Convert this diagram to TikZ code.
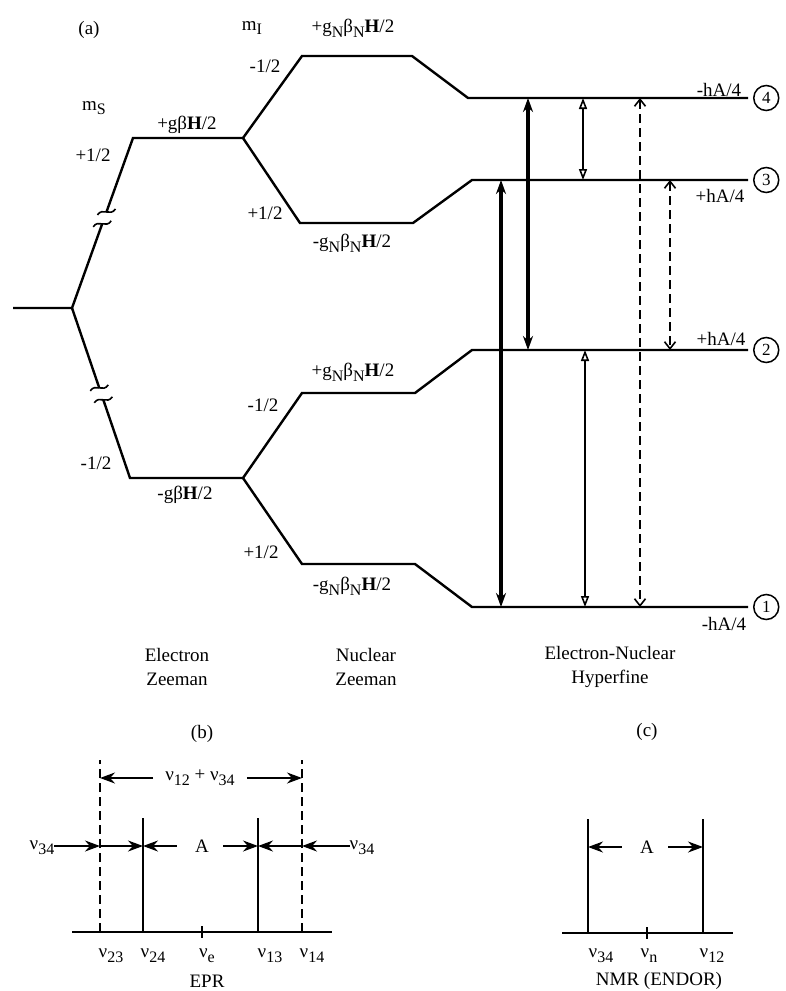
\documentclass[tikz,border=0pt]{standalone}
\usepackage{fontspec}
\setmainfont{Liberation Serif}
\usetikzlibrary{arrows.meta, positioning, calc}

\newcommand\dn[1]{\raisebox{-0.55ex}{\fontsize{16}{18}\selectfont #1}}

\tikzset{
    tilde/.pic={\draw[line width=1.6pt] (-9,3) .. controls (-4,-5) and (4,5) .. (9,-3);}
}

\begin{document}
\begin{tikzpicture}[x=1pt, y=-1pt,
    font=\fontsize{19}{24}\selectfont,
    level/.style={line width=2.4pt, line join=miter},
    lbl/.style={inner sep=0pt},
    circ/.style={draw, circle, line width=1.5pt, minimum size=25pt, inner sep=0pt,
                 font=\fontsize{17}{19}\selectfont},
    thk/.style={line width=3.2pt, {Stealth[length=14pt,width=10pt]}-{Stealth[length=14pt,width=10pt]}},
    thn/.style={line width=1.6pt, {Triangle[open,length=11pt,width=8pt,line width=1.6pt]}-{Triangle[open,length=11pt,width=8pt,line width=1.6pt]}},
    dsh/.style={line width=1.6pt, dash pattern=on 9pt off 5pt, {Straight Barb[length=7pt,width=11pt]}-{Straight Barb[length=7pt,width=11pt]}},
    axis/.style={line width=2pt},
    peak/.style={line width=2pt},
    dim/.style={line width=1.6pt, -{Stealth[length=15pt,width=11pt]}}
]
\useasboundingbox (0,0) rectangle (786,991);

% electron Zeeman
\coordinate (E0) at (13,308);
\coordinate (Eb) at (72,308);
\coordinate (Eu) at (133,138);
\coordinate (Eur) at (243,138);
\coordinate (Ed) at (130,478);
\coordinate (Edr) at (243,478);

\draw[level] (E0) -- (Eb) -- ($(Eb)!0.495!(Eu)$);
\draw[level] ($(Eb)!0.565!(Eu)$) -- (Eu) -- (Eur);
\pic at ($(Eb)!0.495!(Eu)$) {tilde};
\pic at ($(Eb)!0.565!(Eu)$) {tilde};
\draw[level] (Eb) -- ($(Eb)!0.47!(Ed)$);
\draw[level] ($(Eb)!0.54!(Ed)$) -- (Ed) -- (Edr);
\pic at ($(Eb)!0.47!(Ed)$) {tilde};
\pic at ($(Eb)!0.54!(Ed)$) {tilde};

% nuclear Zeeman and hyperfine levels
\coordinate (L4) at (468,98);   \coordinate (L4e) at (748,98);
\coordinate (L3) at (472,180);  \coordinate (L3e) at (748,180);
\coordinate (L2) at (472,350);  \coordinate (L2e) at (748,350);
\coordinate (L1) at (472,607);  \coordinate (L1e) at (748,607);

\draw[level] (Eur) -- (302,56) -- (412,56) -- (L4) -- (L4e);
\draw[level] (Eur) -- (300,223) -- (413,223) -- (L3) -- (L3e);
\draw[level] (Edr) -- (302,393) -- (415,393) -- (L2) -- (L2e);
\draw[level] (Edr) -- (302,564) -- (415,564) -- (L1) -- (L1e);

\node[circ, right=5pt of L4e] (n4) {4};
\node[circ, right=5pt of L3e] (n3) {3};
\node[circ, right=5pt of L2e] (n2) {2};
\node[circ, right=5pt of L1e] (n1) {1};

% labels
\node[lbl] (pa) at (89,30) {(a)};
\node[lbl] (ms) at (94,108) {m\dn{S}};
\node[lbl] (msu) at (93,155) {+1/2};
\node[lbl] (msd) at (96,463) {-1/2};
\node[lbl] (ezu) at (187,125) {+gβ\textbf{H}/2};
\node[lbl] (ezd) at (185,495) {-gβ\textbf{H}/2};
\node[lbl] (mi) at (252,28) {m\dn{I}};
\node[lbl] (mi1) at (265,66) {-1/2};
\node[lbl] (mi2) at (265,213) {+1/2};
\node[lbl] (mi3) at (263,405) {-1/2};
\node[lbl] (mi4) at (261,552) {+1/2};
\node[lbl] (nz1) at (353,28) {+g\dn{N}β\dn{N}\textbf{H}/2};
\node[lbl] (nz2) at (352,243) {-g\dn{N}β\dn{N}\textbf{H}/2};
\node[lbl] (nz3) at (353,372) {+g\dn{N}β\dn{N}\textbf{H}/2};
\node[lbl] (nz4) at (352,586) {-g\dn{N}β\dn{N}\textbf{H}/2};
\node[lbl] (hf4) at (719,90) {-hA/4};
\node[lbl] (hf3) at (720,196) {+hA/4};
\node[lbl] (hf2) at (721,339) {+hA/4};
\node[lbl] (hf1) at (724,624) {-hA/4};

% transitions
\coordinate (t1a) at (528,98);  \coordinate (t1b) at (528,350);
\coordinate (t2a) at (501,180); \coordinate (t2b) at (501,607);
\coordinate (t3a) at (583,98);  \coordinate (t3b) at (583,180);
\coordinate (t4a) at (585,350); \coordinate (t4b) at (585,607);
\coordinate (t5a) at (640,98);  \coordinate (t5b) at (640,607);
\coordinate (t6a) at (670,180); \coordinate (t6b) at (670,350);
\draw[thk] (t1a) -- (t1b);
\draw[thk] (t2a) -- (t2b);
\draw[thn] (t3a) -- (t3b);
\draw[thn] (t4a) -- (t4b);
\draw[dsh] (t5a) -- (t5b);
\draw[dsh] (t6a) -- (t6b);

\node[lbl, align=center] (cez) at (177,667) {Electron\\Zeeman};
\node[lbl, align=center] (cnz) at (366,667) {Nuclear\\Zeeman};
\node[lbl, align=center] (chf) at (610,667) {Electron-Nuclear\\Hyperfine};

% (b) EPR spectrum
\node[lbl] (pb) at (202,734) {(b)};
\coordinate (bax1) at (72,932);  \coordinate (bax2) at (332,932);
\coordinate (p23) at (100,932);  \coordinate (p23t) at (100,760);
\coordinate (p24) at (143,932);  \coordinate (p24t) at (143,818);
\coordinate (p13) at (258,932);  \coordinate (p13t) at (258,818);
\coordinate (p14) at (302,932);  \coordinate (p14t) at (302,760);
\draw[axis] (bax1) -- (bax2);
\draw[peak, dash pattern=on 9pt off 5pt] (p23) -- (p23t);
\draw[peak, dash pattern=on 9pt off 5pt] (p14) -- (p14t);
\draw[peak] (p24) -- (p24t);
\draw[peak] (p13) -- (p13t);
\draw[peak] (202,926) -- (202,938);

\node[lbl] (sum) at (200,778) {ν\dn{12} + ν\dn{34}};
\draw[dim] ([xshift=-12pt]sum.west) -- (sum.west -| p23t);
\draw[dim] ([xshift=12pt]sum.east) -- (sum.east -| p14t);

\node[lbl] (bA) at (202,846) {A};
\node[lbl] (b34l) at (42,848) {ν\dn{34}};
\node[lbl] (b34r) at (362,848) {ν\dn{34}};
\draw[dim] (b34l.east |- bA) -- (p23 |- bA);
\draw[dim] (p23 |- bA) -- (p24 |- bA);
\draw[dim] ([xshift=-18pt]bA.west) -- (p24 |- bA);
\draw[dim] ([xshift=14pt]bA.east) -- (p13 |- bA);
\draw[dim] (p14 |- bA) -- (p13 |- bA);
\draw[dim] (b34r.west |- bA) -- (p14 |- bA);

\node[lbl] (n23) at (111,956) {ν\dn{23}};
\node[lbl] (n24) at (153,956) {ν\dn{24}};
\node[lbl] (ne) at (207,956) {ν\dn{e}};
\node[lbl] (n13) at (270,956) {ν\dn{13}};
\node[lbl] (n14) at (312,956) {ν\dn{14}};
\node[lbl] (epr) at (207,981) {EPR};

% (c) ENDOR spectrum
\node[lbl] (pc) at (647,732) {(c)};
\coordinate (cax1) at (562,933); \coordinate (cax2) at (733,933);
\coordinate (q34) at (588,933);  \coordinate (q34t) at (588,819);
\coordinate (q12) at (703,933);  \coordinate (q12t) at (703,819);
\draw[axis] (cax1) -- (cax2);
\draw[peak] (q34) -- (q34t);
\draw[peak] (q12) -- (q12t);
\draw[peak] (647,927) -- (647,939);

\node[lbl] (cA) at (647,847) {A};
\draw[dim] ([xshift=-18pt]cA.west) -- (q34 |- cA);
\draw[dim] ([xshift=14pt]cA.east) -- (q12 |- cA);

\node[lbl] (m34) at (601,956) {ν\dn{34}};
\node[lbl] (mn) at (649,956) {ν\dn{n}};
\node[lbl] (m12) at (712,956) {ν\dn{12}};
\node[lbl] (nmr) at (659,981) {NMR (ENDOR)};
\end{tikzpicture}
\end{document}
